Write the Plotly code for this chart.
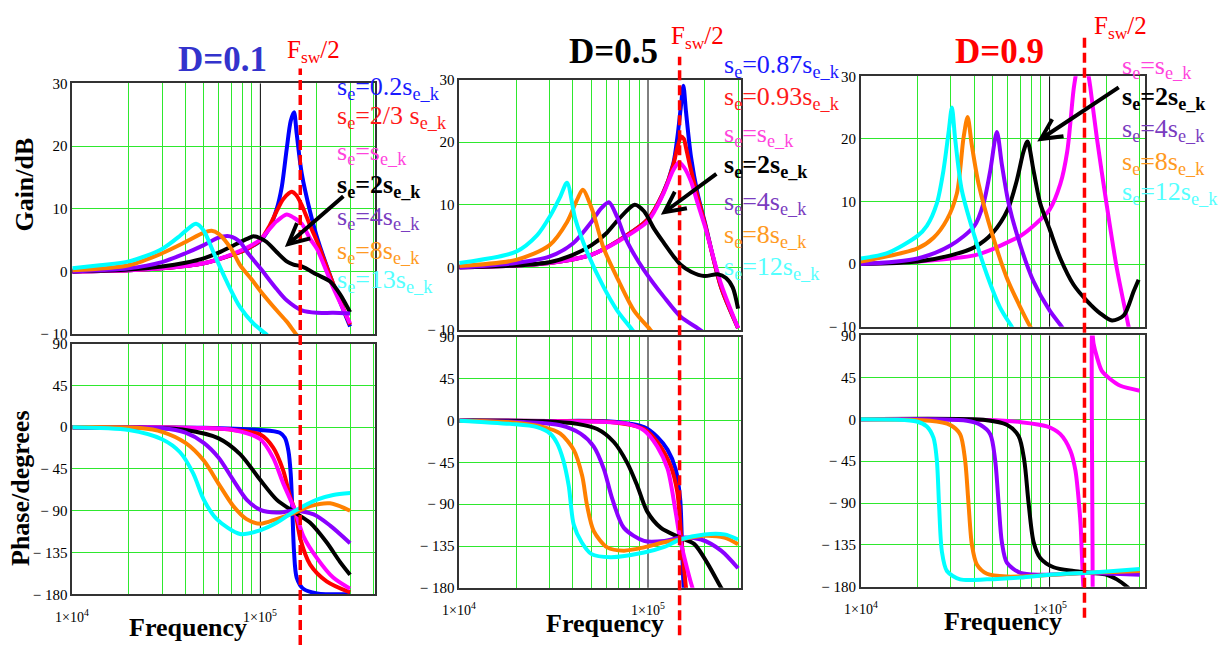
import math
import plotly.graph_objects as go

W, H = 1232, 655
FONT = "Liberation Serif"

# ---------------- data: D = 0.1 ----------------
d1_gain_blue_f = [1e4, 2e4, 3e4, 5e4, 7e4, 8.5e4, 1e5, 1.12e5, 1.22e5, 1.3e5, 1.38e5, 1.45e5, 1.51e5, 1.56e5, 1.66e5, 1.84e5, 2e5, 2.44e5, 3e5]
d1_gain_blue_db = [0, 0.2, 0.5, 1.3, 2.6, 3.6, 4.9, 7.0, 9.9, 13.5, 19.5, 24.0, 25.4, 22.0, 15.6, 9.5, 5.5, -2.0, -8.8]
d1_gain_red_f = [1e4, 2e4, 3e4, 5e4, 7e4, 8.5e4, 1e5, 1.12e5, 1.22e5, 1.32e5, 1.42e5, 1.47e5, 1.55e5, 1.66e5, 1.84e5, 2e5, 2.44e5, 3e5]
d1_gain_red_db = [0, 0.2, 0.5, 1.3, 2.6, 3.6, 5.0, 7.3, 9.6, 11.5, 12.5, 12.7, 12.2, 10.6, 7.3, 4.8, -2.0, -8.5]
d1_gain_mag_f = [1e4, 2e4, 3e4, 5e4, 7e4, 8.5e4, 1e5, 1.12e5, 1.22e5, 1.38e5, 1.5e5, 1.66e5, 1.84e5, 2e5, 2.44e5, 3e5]
d1_gain_mag_db = [0, 0.2, 0.5, 1.3, 2.7, 3.8, 5.1, 6.8, 8.0, 9.1, 8.6, 7.6, 5.2, 3.6, -2.6, -8.3]
d1_gain_blk_f = [1e4, 2e4, 3e4, 4e4, 5e4, 6e4, 7.2e4, 8.5e4, 9.2e4, 1e5, 1.08e5, 1.22e5, 1.38e5, 1.5e5, 1.66e5, 2e5, 2.35e5, 2.65e5, 3e5]
d1_gain_blk_db = [0, 0.3, 0.8, 1.4, 2.1, 3.0, 4.15, 5.2, 5.6, 5.3, 4.7, 3.1, 1.6, 1.1, 0.8, -0.5, -1.6, -3.6, -6.5]
d1_gain_pur_f = [1e4, 2e4, 3e4, 4e4, 5e4, 6e4, 6.9e4, 7.8e4, 8.5e4, 1e5, 1.22e5, 1.38e5, 1.66e5, 2e5, 2.44e5, 3e5]
d1_gain_pur_db = [0, 0.5, 1.5, 2.9, 4.2, 5.4, 5.6, 4.7, 3.1, 0.5, -2.8, -4.6, -6.2, -6.6, -6.6, -6.7]
d1_gain_org_f = [1e4, 2e4, 3e4, 4e4, 5e4, 5.5e4, 6e4, 7e4, 7.8e4, 9e4, 1e5, 1.22e5, 1.38e5, 1.53e5, 1.6e5]
d1_gain_org_db = [0.2, 1.0, 2.9, 4.7, 6.2, 6.5, 6.0, 3.6, 1.0, -1.3, -3.1, -6.2, -8.0, -9.8, -10.5]
d1_gain_cyn_f = [1e4, 1.4e4, 2e4, 3e4, 3.74e4, 4.2e4, 4.55e4, 5e4, 5.62e4, 6.62e4, 7.8e4, 9.18e4, 1.08e5, 1.12e5]
d1_gain_cyn_db = [0.5, 1.0, 1.6, 3.6, 5.7, 7.0, 7.6, 6.5, 3.1, -1.6, -5.7, -8.3, -10.1, -10.6]

d1_ph_blue_f = [1e4, 5e4, 1e5, 1.27e5, 1.35e5, 1.41e5, 1.45e5, 1.48e5, 1.51e5, 1.56e5, 1.69e5, 2e5, 3e5]
d1_ph_blue_deg = [0, -0.5, -3, -6, -11.5, -25.5, -50, -90, -134, -162, -174, -179, -180]
d1_ph_red_f = [1e4, 3e4, 5e4, 7.18e4, 1e5, 1.17e5, 1.32e5, 1.44e5, 1.53e5, 1.63e5, 1.84e5, 2.25e5, 3e5]
d1_ph_red_deg = [0, -0.3, -1, -3, -8, -22, -46, -75, -90, -120, -148, -166, -178]
d1_ph_mag_f = [1e4, 3e4, 5e4, 7.18e4, 1e5, 1.17e5, 1.32e5, 1.53e5, 1.69e5, 2e5, 2.44e5, 3e5]
d1_ph_mag_deg = [0, -0.3, -1, -3, -13, -33, -60, -90, -117, -141, -162, -174]
d1_ph_blk_f = [1e4, 2e4, 4e4, 6e4, 7.8e4, 1e5, 1.22e5, 1.53e5, 1.84e5, 2.25e5, 2.65e5, 3e5]
d1_ph_blk_deg = [0, -0.5, -3, -12, -29, -57, -78, -92, -103, -124, -145, -159]
d1_ph_pur_f = [1e4, 2e4, 3e4, 4e4, 5e4, 6e4, 7.18e4, 8.45e4, 1e5, 1.22e5, 1.53e5, 1.92e5, 2.35e5, 3e5]
d1_ph_pur_deg = [0, -0.3, -1, -6, -17, -33, -57, -78, -89, -92, -90, -94, -106, -125]
d1_ph_org_f = [1e4, 2.29e4, 3e4, 4e4, 5e4, 6e4, 7.18e4, 8.45e4, 1e5, 1.22e5, 1.53e5, 1.84e5, 2.35e5, 3e5]
d1_ph_org_deg = [0, -1, -5, -17, -36, -61, -85, -99, -104, -99, -92, -85, -82, -90]
d1_ph_cyn_f = [1e4, 2e4, 3e4, 3.74e4, 4.4e4, 5e4, 5.86e4, 7.8e4, 1e5, 1.22e5, 1.53e5, 2e5, 2.44e5, 3e5]
d1_ph_cyn_deg = [0, -3, -13, -27, -50, -78, -99, -115, -111, -103, -90, -78, -73, -71]

# ---------------- data: D = 0.5 ----------------
d5_gain_blue_f = [1e4, 2e4, 3e4, 5e4, 7e4, 1e5, 1.2e5, 1.36e5, 1.43e5, 1.49e5, 1.54e5, 1.59e5, 1.69e5, 1.83e5, 2e5, 2.44e5, 3e5]
d5_gain_blue_db = [0, 0.3, 0.7, 2.0, 4.3, 7.7, 11.8, 16.5, 20.7, 25.4, 29.0, 24.8, 17.6, 11.8, 7.2, -3.2, -9.7]
d5_gain_red_f = [1e4, 2e4, 3e4, 5e4, 7e4, 1e5, 1.2e5, 1.36e5, 1.43e5, 1.5e5, 1.55e5, 1.59e5, 1.69e5, 1.83e5, 2e5, 2.44e5, 3e5]
d5_gain_red_db = [0, 0.3, 0.7, 2.0, 4.3, 7.7, 11.8, 16.3, 19.1, 20.9, 20.5, 19.1, 15.5, 11.3, 7.0, -3.2, -9.7]
d5_gain_mag_f = [1e4, 2e4, 3e4, 5e4, 7e4, 1e5, 1.2e5, 1.36e5, 1.46e5, 1.55e5, 1.69e5, 1.83e5, 2e5, 2.44e5, 3e5]
d5_gain_mag_db = [0, 0.3, 0.7, 2.0, 4.2, 7.4, 11.6, 15.5, 16.8, 16.0, 13.7, 10.3, 6.6, -2.7, -9.7]
d5_gain_blk_f = [1e4, 2e4, 3e4, 4e4, 5e4, 6e4, 7e4, 8.5e4, 9.5e4, 1.08e5, 1.22e5, 1.37e5, 1.49e5, 1.69e5, 1.99e5, 2.34e5, 2.59e5, 2.81e5, 3e5]
d5_gain_blk_db = [0, 0.3, 0.8, 2.0, 3.5, 5.4, 7.7, 10.0, 9.0, 6.1, 3.8, 1.7, 0.4, -0.7, -1.4, -1.1, -1.7, -3.2, -6.6]
d5_gain_pur_f = [1e4, 2e4, 3e4, 4e4, 5e4, 5.6e4, 6.2e4, 6.87e4, 7.45e4, 8.1e4, 9.5e4, 1.22e5, 1.49e5, 1.83e5, 1.95e5]
d5_gain_pur_db = [0, 0.7, 1.7, 3.8, 7.2, 9.3, 10.4, 8.0, 5.2, 3.0, -0.4, -4.8, -7.9, -9.7, -10.3]
d5_gain_org_f = [1e4, 2e4, 3e4, 3.72e4, 4.21e4, 4.51e4, 5.06e4, 5.83e4, 7e4, 8.43e4, 1.03e5, 1.06e5]
d5_gain_org_db = [0.2, 1.2, 3.5, 7.2, 10.8, 12.4, 9.2, 3.0, -2.2, -6.9, -10.0, -10.5]
d5_gain_cyn_f = [1e4, 2e4, 2.58e4, 3.03e4, 3.43e4, 3.72e4, 4.12e4, 4.75e4, 5.83e4, 6.87e4, 8.26e4, 8.5e4]
d5_gain_cyn_db = [0.7, 2.5, 5.1, 8.2, 11.3, 13.5, 7.7, 2.5, -3.2, -6.9, -10.0, -10.5]

d5_ph_blue_f = [1e4, 3e4, 6.33e4, 9.52e4, 1.12e5, 1.27e5, 1.4e5, 1.48e5, 1.51e5, 1.54e5, 1.56e5]
d5_ph_blue_deg = [0, -0.3, -1, -7, -17.5, -31.5, -52, -84, -126, -175, -190]
d5_ph_red_f = [1e4, 3e4, 6.33e4, 9.52e4, 1.12e5, 1.32e5, 1.43e5, 1.5e5, 1.59e5, 1.62e5]
d5_ph_red_deg = [0, -0.3, -1.5, -9, -23, -49, -77, -126, -180, -190]
d5_ph_mag_f = [1e4, 3e4, 7.76e4, 9.52e4, 1.12e5, 1.27e5, 1.4e5, 1.48e5, 1.62e5, 1.72e5, 1.76e5]
d5_ph_mag_deg = [0, -0.5, -3.5, -10.5, -28, -52, -98, -128, -161, -180, -186]
d5_ph_blk_f = [1e4, 2.8e4, 4.21e4, 5.38e4, 6.59e4, 7.76e4, 8.77e4, 9.91e4, 1.17e5, 1.48e5, 1.76e5, 2.07e5, 2.44e5, 2.55e5]
d5_ph_blk_deg = [0, -0.7, -3.5, -9, -23, -45.5, -70, -98, -115.5, -126, -133, -154, -180, -186]
d5_ph_pur_f = [1e4, 2.28e4, 3.43e4, 4.39e4, 5.16e4, 5.83e4, 6.46e4, 7.45e4, 9.52e4, 1.22e5, 1.48e5, 1.91e5, 2.44e5, 3e5]
d5_ph_pur_deg = [0, -1.75, -5, -14, -28, -52, -84, -115.5, -129.5, -129.5, -126, -128, -140, -159]
d5_ph_org_f = [1e4, 1.86e4, 2.8e4, 3.43e4, 4.04e4, 4.48e4, 4.75e4, 5.16e4, 6.08e4, 7.45e4, 9.52e4, 1.22e5, 1.48e5, 1.99e5, 2.54e5, 3e5]
d5_ph_org_deg = [0, -1.75, -7, -14, -31.5, -59.5, -91, -119, -136.5, -140, -136.5, -131, -128, -124, -126, -133]
d5_ph_cyn_f = [1e4, 1.86e4, 2.58e4, 3.03e4, 3.3e4, 3.55e4, 3.8e4, 4.04e4, 4.45e4, 5.0e4, 6.33e4, 9.52e4, 1.22e5, 1.48e5, 1.99e5, 2.54e5, 3e5]
d5_ph_cyn_deg = [0, -3.5, -7, -14, -24.5, -42, -70, -112, -131, -143.5, -147, -142, -136, -128, -122.5, -122.5, -128]

# ---------------- data: D = 0.9 ----------------
d9_gain_mag_f = [1e4, 2e4, 3e4, 4e4, 5e4, 6e4, 7e4, 8.2e4, 1e5, 1.14e5, 1.24e5, 1.34e5, 1.39e5, 1.48e5, 1.59e5, 1.64e5, 1.78e5, 2e5, 2.27e5, 2.62e5, 2.7e5]
d9_gain_mag_db = [0, 0.4, 0.9, 1.4, 2.4, 3.5, 4.5, 6.1, 8.7, 12.8, 18.0, 27.9, 31.0, 36.0, 31.0, 28.4, 20.1, 9.7, -0.7, -10.0, -12.0]
d9_gain_blk_f = [1e4, 2e4, 3e4, 4e4, 5e4, 6e4, 6.71e4, 7.28e4, 7.64e4, 8.23e4, 8.92e4, 1e5, 1.14e5, 1.34e5, 1.58e5, 1.86e5, 2.14e5, 2.47e5, 2.79e5, 2.96e5]
d9_gain_blk_db = [0, 0.4, 1.4, 2.7, 5.0, 8.7, 13.4, 18.0, 19.6, 14.9, 9.7, 5.6, 0.9, -3.3, -5.9, -7.9, -9.0, -8.2, -4.3, -2.5]
d9_gain_pur_f = [1e4, 2e4, 3e4, 4e4, 4.47e4, 4.85e4, 5.26e4, 5.59e4, 6.07e4, 7e4, 8.23e4, 1e5, 1.16e5, 1.2e5]
d9_gain_pur_db = [0, 0.9, 3.0, 6.1, 9.7, 14.9, 21.1, 15.9, 9.7, 3.0, -2.8, -7.4, -10.0, -10.6]
d9_gain_org_f = [1e4, 2e4, 2.43e4, 2.86e4, 3.23e4, 3.5e4, 3.68e4, 3.87e4, 4.21e4, 5e4, 5.94e4, 7e4, 7.9e4, 8.2e4]
d9_gain_org_db = [0.4, 2.5, 4.2, 7.1, 11.3, 20.1, 23.5, 19.1, 12.8, 4.5, -2.2, -6.9, -10.0, -10.8]
d9_gain_cyn_f = [1e4, 1.37e4, 2e4, 2.24e4, 2.53e4, 2.74e4, 2.92e4, 3.04e4, 3.16e4, 3.43e4, 4e4, 4.66e4, 5.46e4, 6.31e4, 6.5e4]
d9_gain_cyn_db = [0.9, 1.7, 4.5, 6.1, 9.7, 14.9, 21.1, 25.0, 20.1, 11.8, 4.5, -1.7, -6.9, -10.0, -10.6]

d9_ph_mag_f = [1e4, 4.66e4, 7e4, 9.68e4, 1.14e5, 1.29e5, 1.37e5, 1.43e5, 1.46e5, 1.48e5, 1.51e5, 1.6e5, 1.675e5, 1.68e5, 1.71e5, 1.78e5, 1.89e5, 2.1e5, 2.37e5, 3e5]
d9_ph_mag_deg = [0, -0.7, -3, -7.7, -16, -34, -55, -90, -114, -142, -180, -230, -268, 95, 81, 67, 52, 43, 36, 30.7]
d9_ph_blk_f = [1e4, 4.66e4, 5.94e4, 6.85e4, 7.34e4, 7.74e4, 8.23e4, 8.92e4, 1.05e5, 1.34e5, 1.64e5, 2.01e5, 2.27e5, 2.57e5, 2.75e5]
d9_ph_blk_deg = [0, -1, -6, -18, -44, -90, -132, -149, -159, -163, -165, -167, -172, -180, -186]
d9_ph_pur_f = [1e4, 3.65e4, 4.29e4, 4.85e4, 5.15e4, 5.37e4, 5.59e4, 5.94e4, 7e4, 8.92e4, 1.29e5, 1.58e5, 2.18e5, 3e5]
d9_ph_pur_deg = [0, -1.7, -6, -16, -44, -90, -132, -154, -165, -167, -166, -165, -166, -167]
d9_ph_org_f = [1e4, 2.33e4, 2.97e4, 3.36e4, 3.57e4, 3.72e4, 3.88e4, 4.12e4, 4.66e4, 5.94e4, 8.57e4, 1.05e5, 1.58e5, 2.18e5, 3e5]
d9_ph_org_deg = [0, -1.7, -6, -16, -44, -90, -135, -156, -166, -169, -168, -167, -165, -164, -163]
d9_ph_cyn_f = [1e4, 1.98e4, 2.24e4, 2.43e4, 2.53e4, 2.6e4, 2.69e4, 2.86e4, 3.36e4, 4.66e4, 7e4, 1e5, 1.58e5, 2.18e5, 3e5]
d9_ph_cyn_deg = [0, -2.4, -7.7, -20, -44, -93, -142, -163, -172, -172, -170, -167, -165, -163, -161]

# half switching frequency marker per panel
fsw_half_marker = [1.63e5, 1.47e5, 1.53e5]

# legend texts per panel
labels_d1 = ["s<sub>e</sub>=0.2s<sub>e_k</sub>", "s<sub>e</sub>=2/3 s<sub>e_k</sub>", "s<sub>e</sub>=s<sub>e_k</sub>",
             "<b>s<sub>e</sub>=2s<sub>e_k</sub></b>", "s<sub>e</sub>=4s<sub>e_k</sub>", "s<sub>e</sub>=8s<sub>e_k</sub>",
             "s<sub>e</sub>=13s<sub>e_k</sub>"]
labels_d5 = ["s<sub>e</sub>=0.87s<sub>e_k</sub>", "s<sub>e</sub>=0.93s<sub>e_k</sub>", "s<sub>e</sub>=s<sub>e_k</sub>",
             "<b>s<sub>e</sub>=2s<sub>e_k</sub></b>", "s<sub>e</sub>=4s<sub>e_k</sub>", "s<sub>e</sub>=8s<sub>e_k</sub>",
             "s<sub>e</sub>=12s<sub>e_k</sub>"]
labels_d9 = ["s<sub>e</sub>=s<sub>e_k</sub>", "<b>s<sub>e</sub>=2s<sub>e_k</sub></b>", "s<sub>e</sub>=4s<sub>e_k</sub>",
             "s<sub>e</sub>=8s<sub>e_k</sub>", "s<sub>e</sub>=12s<sub>e_k</sub>"]

gain_ticks = [-10, 0, 10, 20, 30]
gain_ticktext = ["\u2212 10", "0", "10", "20", "30"]
phase_ticks = [-180, -135, -90, -45, 0, 45, 90]
phase_ticktext = ["\u2212 180", "\u2212 135", "\u2212 90", "\u2212 45", "0", "45", "90"]
grid_freqs = [2e4, 3e4, 4e4, 5e4, 6e4, 7e4, 8e4, 9e4, 2e5, 3e5, 4e5]

# ---------------- styling ----------------
LINE = {"blue": "#0000ff", "red": "#ff0000", "mag": "#ff00ff", "blk": "#000000",
        "pur": "#8a00ff", "org": "#ff8000", "cyn": "#00ffff"}
TEXT = {"blue": "#1a1aff", "red": "#ff1a1a", "mag": "#ff44dd", "blk": "#000000",
        "pur": "#7a3cc0", "org": "#ff9a22", "cyn": "#55ffff"}
ORDER = ["blue", "red", "mag", "blk", "pur", "org", "cyn"]
GRID = "#2ee82e"


def px_x(x):
    return x / W


def px_y(y):
    return 1 - y / H


def text_note(x, y, text, size, color, xanchor="center", **kw):
    return dict(xref="paper", yref="paper", x=px_x(x), y=px_y(y), text=text,
                showarrow=False, xanchor=xanchor, yanchor="middle",
                font=dict(family=FONT, size=size, color=color), **kw)


# panel geometry in page pixels: (left, right, gain top, gain bottom, phase top, phase bottom, x max)
panels = [
    (72.3, 375.0, 77.3, 334.3, 344.0, 601.0, 4.07e5),
    (459.3, 741.0, 73.3, 330.0, 337.3, 594.3, 3.11e5),
    (860.7, 1144.5, 70.0, 326.7, 335.7, 593.3, 3.18e5),
]

g = globals()
fig = go.Figure()
layout = {}

for i, (tag, (l, r, gt, gb, pt, pb, xmax)) in enumerate(zip(["d1", "d5", "d9"], panels)):
    gx, px_ = 2 * i + 1, 2 * i + 2
    for n, (top, bot, ticks, ttext, rng) in zip(
            (gx, px_),
            ((gt, gb, gain_ticks, gain_ticktext, [-10, 30]),
             (pt, pb, phase_ticks, phase_ticktext, [-180, 90]))):
        sfx = "" if n == 1 else str(n)
        layout["xaxis" + sfx] = dict(
            type="log", range=[4, math.log10(xmax)], domain=[px_x(l), px_x(r)],
            anchor="y" + sfx, tickvals=grid_freqs, showticklabels=False, ticks="",
            showgrid=True, gridcolor=GRID, gridwidth=1.2, zeroline=False,
            showline=True, mirror=True, linecolor="#333333", linewidth=1.5)
        layout["yaxis" + sfx] = dict(
            range=rng, domain=[px_y(bot), px_y(top)], anchor="x" + sfx,
            tickvals=ticks, ticktext=ttext, ticks="",
            tickfont=dict(family=FONT, size=15, color="black"),
            showgrid=True, gridcolor=GRID, gridwidth=1.2, zeroline=False,
            showline=True, mirror=True, linecolor="#333333", linewidth=1.5)

    for kind, n, unit in (("gain", gx, "db"), ("ph", px_, "deg")):
        sfx = "" if n == 1 else str(n)
        for c in ORDER:
            fk = f"{tag}_{kind}_{c}_f"
            if fk not in g:
                continue
            fig.add_trace(go.Scatter(
                x=g[fk], y=g[f"{tag}_{kind}_{c}_{unit}"], mode="lines",
                line=dict(color=LINE[c], width=4, shape="spline", smoothing=0.8),
                xaxis="x" + sfx, yaxis="y" + sfx, showlegend=False, hoverinfo="skip"))

layout_shapes = []
annotations = []

for i, (l, r, gt, gb, pt, pb, xmax) in enumerate(panels):
    gx, px_ = 2 * i + 1, 2 * i + 2
    for n, (top, bot) in ((gx, (gt, gb)), (px_, (pt, pb))):
        sfx = "" if n == 1 else str(n)
        # decade line at 100 kHz
        layout_shapes.append(dict(type="line", xref="x" + sfx, yref="paper",
                                  x0=1e5, x1=1e5, y0=px_y(bot), y1=px_y(top), layer="below",
                                  line=dict(color="black", width=1)))
    # decade tick labels under the phase plot
    sfx = str(px_)
    for dec, txt in ((4, "1\u00d710<sup>4</sup>"), (5, "1\u00d710<sup>5</sup>")):
        annotations.append(dict(xref="x" + sfx, yref="paper", x=dec, y=px_y(pb + 22),
                                text=txt, showarrow=False, xanchor="center", yanchor="middle",
                                font=dict(family=FONT, size=14, color="black")))

# Fsw/2 dashed markers spanning both plots of each column
fsw_spans = [(62, 653), (50, 643), (30, 625)]
for i, (f, (y0, y1)) in enumerate(zip(fsw_half_marker, fsw_spans)):
    sfx = "" if i == 0 else str(2 * i + 1)
    layout_shapes.append(dict(type="line", xref="x" + sfx, yref="paper", x0=f, x1=f,
                              y0=px_y(y1), y1=px_y(y0), layer="above",
                              line=dict(color="#ff0000", width=3.5, dash="10px,5px")))

# Fsw/2 captions
for x, y in ((313, 45), (697, 30), (1120, 20)):
    annotations.append(text_note(x, y, "F<sub>sw</sub>/2", 25, "#ff0000"))

# panel titles
for x, y, txt, col in ((222, 53, "D=0.1", "#3333cc"), (613, 45, "D=0.5", "#000000"),
                       (999, 45, "D=0.9", "#ff0000")):
    annotations.append(text_note(x, y, f"<b>{txt}</b>", 35, col))

# curve labels
label_sets = [
    (335, [82, 112, 149, 182, 215, 250, 280], labels_d1, ORDER),
    (722, [59, 92, 130, 162, 200, 234, 267], labels_d5, ORDER),
    (1120, [60, 92, 125, 159, 190], labels_d9, ["mag", "blk", "pur", "org", "cyn"]),
]
for x, ys, texts, cols in label_sets:
    for y, t, c in zip(ys, texts, cols):
        annotations.append(text_note(x, y, t, 26, TEXT[c], xanchor="left"))

# arrows pointing at the 2*se_k curves
for sfx, f, v, ax, ay in (("", 1.35e5, 3.9, 60, -52), ("3", 1.17e5, 8.4, 57, -42),
                          ("5", 8.6e4, 19.6, 83, -55)):
    annotations.append(dict(xref="x" + sfx, yref="y" + sfx, x=math.log10(f), y=v,
                            ax=ax, ay=ay, text="", showarrow=True, arrowhead=5,
                            arrowsize=1, arrowwidth=4, arrowcolor="black", standoff=0))

# axis titles
annotations.append(text_note(25, 181, "<b>Gain/dB</b>", 26, "black", textangle=-90))
annotations.append(text_note(21, 492, "<b>Phase/degrees</b>", 26, "black", textangle=-90))
for x, y in ((188, 635), (605, 631), (1003, 629)):
    annotations.append(text_note(x, y, "<b>Frequency</b>", 26, "black"))

fig.update_layout(
    width=W, height=H, autosize=False,
    margin=dict(l=0, r=0, t=0, b=0),
    paper_bgcolor="white", plot_bgcolor="white",
    shapes=layout_shapes, annotations=annotations,
    font=dict(family=FONT),
    **layout)

fig.write_html("out.html")
